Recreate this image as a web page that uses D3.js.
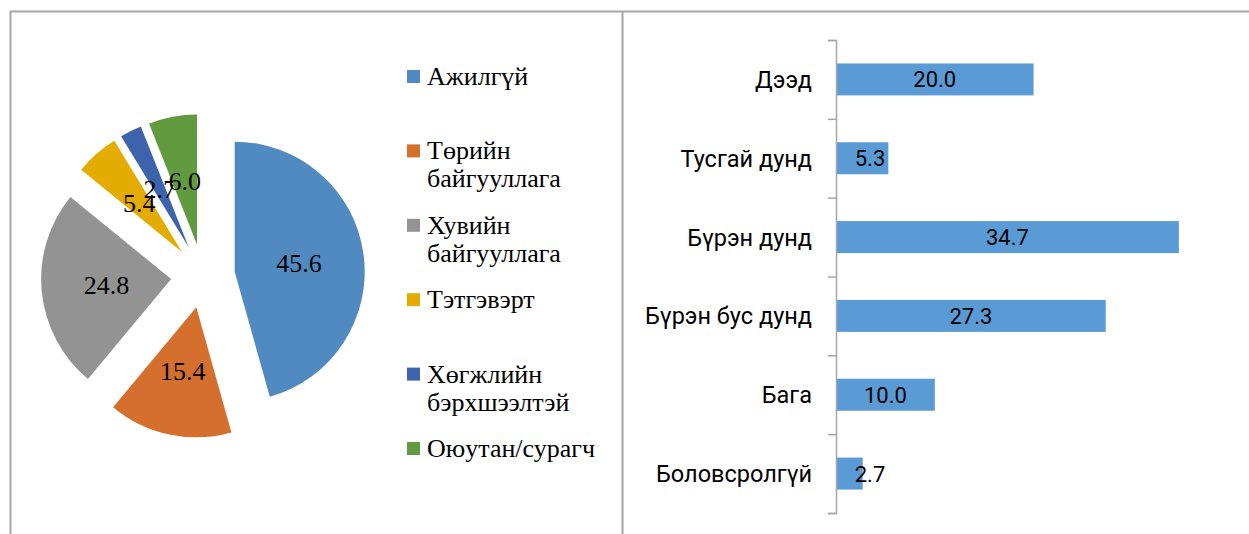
<!DOCTYPE html>
<html>
<head>
<meta charset="utf-8">
<script src="https://cdn.jsdelivr.net/npm/d3@7"></script>
<style>
  body { margin: 0; background: #fff; }
  svg { display: block; }
</style>
</head>
<body>
<div id="chart-area"></div>
<script>
// pie: employment status
var pieNames = ["Ажилгүй", "Төрийн байгууллага", "Хувийн байгууллага", "Тэтгэвэрт", "Хөгжлийн бэрхшээлтэй", "Оюутан/сурагч"];
var pieValues = [45.6, 15.4, 24.8, 5.4, 2.7, 6.0];
var pieColors = ["#508ac0", "#d46f2d", "#939393", "#e4ab00", "#3d63ad", "#629a40"];

// bars: education level
var barNames = ["Дээд", "Тусгай дунд", "Бүрэн дунд", "Бүрэн бус дунд", "Бага", "Боловсролгүй"];
var barValues = [20.0, 5.3, 34.7, 27.3, 10.0, 2.7];

var W = 1249, H = 534;
var svg = d3.select("#chart-area").append("svg")
    .attr("width", W)
    .attr("height", H);

// frames
svg.append("path")
    .attr("d", "M10.5,534V11.5H1249M622.5,11.5V534")
    .attr("fill", "none")
    .attr("stroke", "#a6a6a6")
    .attr("stroke-width", 2);

// ---- pie ----
var R = 130, explode = 32;
var pie = d3.pie().sort(null).value(d => d);
var arc = d3.arc().innerRadius(0).outerRadius(R);
var arcs = pie(pieValues);

var pg = svg.append("g").attr("transform", "translate(203,276)");

var slice = pg.selectAll("g.slice")
    .data(arcs)
    .enter()
    .append("g")
    .attr("class", "slice")
    .attr("transform", function(d) {
        var m = (d.startAngle + d.endAngle) / 2;
        return "translate(" + (Math.sin(m) * explode) + "," + (-Math.cos(m) * explode) + ")";
    });

slice.append("path")
    .attr("d", arc)
    .attr("fill", (d, i) => pieColors[i]);

slice.append("text")
    .attr("transform", d => "translate(" + arc.centroid(d) + ")")
    .attr("text-anchor", "middle")
    .attr("dy", "0.35em")
    .attr("font-family", "'Liberation Serif', 'Times New Roman', serif")
    .attr("font-size", "26px")
    .attr("fill", "#000")
    .text(d => d.data.toFixed(1));

// legend
var lg = svg.append("g");
var item = lg.selectAll("g")
    .data(pieNames)
    .enter()
    .append("g")
    .attr("transform", (d, i) => "translate(407," + (70 + i * 74.4) + ")");

item.append("rect")
    .attr("width", 13)
    .attr("height", 13)
    .attr("fill", (d, i) => pieColors[i]);

item.append("text")
    .attr("font-family", "'Liberation Serif', 'Times New Roman', serif")
    .attr("font-size", "26px")
    .attr("fill", "#000")
    .selectAll("tspan")
    .data(d => d.split(" "))
    .enter()
    .append("tspan")
    .attr("x", 20)
    .attr("y", (d, i) => 15 + i * 28)
    .text(d => d);

// ---- bars ----
var x0 = 836;
var x = d3.scaleLinear().domain([0, 40]).range([x0, x0 + 395.2]);
var y = d3.scaleBand().domain(barNames).range([40, 513])
    .paddingInner(0.594).paddingOuter(0.297);
var yb = d3.scaleLinear().domain([0, barNames.length]).range([40, 513]);

svg.selectAll("rect.bar")
    .data(barValues)
    .enter()
    .append("rect")
    .attr("class", "bar")
    .attr("x", x(0))
    .attr("y", (d, i) => y(barNames[i]))
    .attr("width", d => x(d) - x(0))
    .attr("height", y.bandwidth())
    .attr("fill", "#5b9bd5");

svg.selectAll("text.val")
    .data(barValues)
    .enter()
    .append("text")
    .attr("class", "val")
    .attr("x", d => Math.max((x(0) + x(d)) / 2, x(0) + 34))
    .attr("y", (d, i) => y(barNames[i]) + y.bandwidth() / 2)
    .attr("dy", "0.36em")
    .attr("text-anchor", "middle")
    .attr("font-family", "Roboto, sans-serif")
    .attr("font-size", "22px")
    .attr("fill", "#000")
    .text(d => d.toFixed(1));

var axis = svg.append("g")
    .attr("transform", "translate(" + x0 + ",0)")
    .call(d3.axisLeft(yb).tickValues(d3.range(barNames.length + 1)).tickFormat("").tickSize(8));
axis.selectAll("path, line").attr("stroke", "#a6a6a6").attr("stroke-width", 1.5);

svg.selectAll("text.cat")
    .data(barNames)
    .enter()
    .append("text")
    .attr("class", "cat")
    .attr("x", 812)
    .attr("y", d => y(d) + y.bandwidth() / 2)
    .attr("dy", "0.36em")
    .attr("text-anchor", "end")
    .attr("font-family", "Roboto, sans-serif")
    .attr("font-size", "23.5px")
    .attr("fill", "#000")
    .text(d => d);
</script>
</body>
</html>
